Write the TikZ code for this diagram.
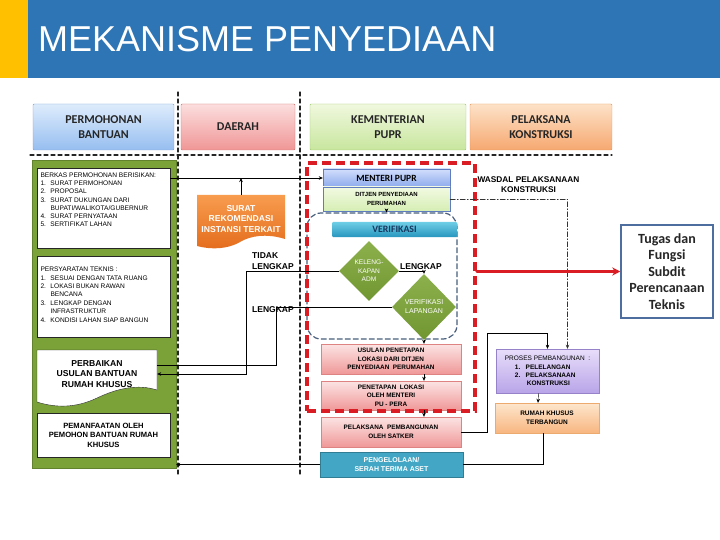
\documentclass[tikz,border=0pt]{standalone}
\usepackage{fontspec}
\setmainfont{Liberation Sans}
\newfontfamily\calibfont{Carlito}
\usetikzlibrary{arrows.meta,shapes.geometric}

\definecolor{barblue}{RGB}{46,117,182}
\definecolor{baryellow}{RGB}{255,192,0}
\definecolor{panelgreen}{RGB}{122,162,56}
\definecolor{zonered}{RGB}{218,28,36}
\definecolor{zoneblue}{RGB}{72,94,124}
\definecolor{asetteal}{RGB}{66,166,196}
\definecolor{tugasblue}{RGB}{79,110,160}

\newcommand\fs[2]{\fontsize{#1}{#2}\selectfont}
\newcommand\itm[1]{\makebox[10pt][l]{#1}}

\begin{document}
\begin{tikzpicture}[x=1pt,y=-1pt,>={Stealth[length=4pt,width=3.5pt]},line cap=round,
  every node/.style={inner sep=1pt},
  head/.style={rounded corners=1pt,minimum height=46pt,align=center,
    font=\calibfont\bfseries\fs{12}{14.5},text=black!85},
  whitebox/.style={draw=black!85,fill=white,inner sep=0pt},
  pinkbox/.style={draw={rgb,255:red,222;green,130;blue,130},top color={rgb,255:red,252;green,228;blue,228},
    bottom color={rgb,255:red,240;green,152;blue,152},minimum width=140pt,minimum height=30pt,
    align=center,font=\bfseries\fs{6.4}{8.5}},
  diam/.style={diamond,aspect=1,inner sep=0pt,top color={rgb,255:red,140;green,176;blue,76},
    bottom color={rgb,255:red,112;green,150;blue,50},align=center,text=white,font=\fs{6.6}{8.6}},
  lbl/.style={font=\bfseries\fs{8.5}{10.5}},
  divider/.style={black!85,line width=1.1pt,dash pattern=on 4pt off 3pt},
  wasdalline/.style={black!80,line width=0.6pt,dash pattern=on 5pt off 2pt on 1pt off 2pt}]
\useasboundingbox (0,0) rectangle (720,540);

% title bar
\fill[baryellow] (0,0) rectangle (28,78);
\fill[barblue] (28,0) rectangle (720,78);
\node[anchor=west,inner sep=0pt,text=white,font=\fs{36}{40}] (title) at (38,39) {MEKANISME PENYEDIAAN};

% lanes
\draw[divider] (178,92) -- (178,476);
\draw[divider] (300,92) -- (300,476);
\draw[divider] (30,155) -- (612,155);

\node[head,draw={rgb,255:red,125;green,160;blue,210},top color={rgb,255:red,222;green,236;blue,252},
  bottom color={rgb,255:red,150;green,190;blue,240},minimum width=141pt] (permohonan) at (103.5,127) {PERMOHONAN\\BANTUAN};
\node[head,draw={rgb,255:red,205;green,110;blue,110},top color={rgb,255:red,252;green,222;blue,222},
  bottom color={rgb,255:red,240;green,150;blue,150},minimum width=114pt] (daerah) at (238,127) {DAERAH};
\node[head,draw={rgb,255:red,160;green,200;blue,110},top color={rgb,255:red,240;green,248;blue,222},
  bottom color={rgb,255:red,200;green,230;blue,158},minimum width=156pt] (kementerian) at (388,127) {KEMENTERIAN\\PUPR};
\node[head,draw={rgb,255:red,230;green,150;blue,90},top color={rgb,255:red,253;green,226;blue,200},
  bottom color={rgb,255:red,246;green,168;blue,112},minimum width=142pt] (pelaksana) at (541,127) {PELAKSANA\\KONSTRUKSI};

% pemohon column
\node[fill=panelgreen,draw=panelgreen!80!black,minimum width=144pt,minimum height=308pt] (pemohon) at (104,314) {};
\node[whitebox,minimum width=133pt,minimum height=80pt] (berkas) at (103.5,208) {\parbox[c][78pt][t]{126pt}{\fs{6.6}{8.3}\vspace*{3.5pt}%
  BERKAS PERMOHONAN BERISIKAN:\\
  \itm{1.}SURAT PERMOHONAN\\
  \itm{2.}PROPOSAL\\
  \itm{3.}SURAT DUKUNGAN DARI\\
  \hspace*{10pt}BUPATI/WALIKOTA/GUBERNUR\\
  \itm{4.}SURAT PERNYATAAN\\
  \itm{5.}SERTIFIKAT LAHAN}};
\node[whitebox,minimum width=133pt,minimum height=81pt] (persyaratan) at (103.5,296.5) {\parbox[c][79pt][t]{126pt}{\fs{6.6}{8.4}\vspace*{10pt}%
  PERSYARATAN TEKNIS :\\
  \itm{1.}SESUAI DENGAN TATA RUANG\\
  \itm{2.}LOKASI BUKAN RAWAN\\
  \hspace*{10pt}BENCANA\\
  \itm{3.}LENGKAP DENGAN\\
  \hspace*{10pt}INFRASTRUKTUR\\
  \itm{4.}KONDISI LAHAN SIAP BANGUN}};
\filldraw[fill=white,draw=black!85] (37,350) -- (157,350) -- (157,390)
  .. controls (138,384) and (118,388) .. (97,398) .. controls (76,408) and (56,408) .. (37,402) -- cycle;
\node[minimum width=120pt,align=center,font=\bfseries\fs{8.6}{10.5}] (perbaikan) at (97,374) {PERBAIKAN\\USULAN BANTUAN\\RUMAH KHUSUS};
\node[whitebox,minimum width=133pt,minimum height=44pt,align=center,font=\bfseries\fs{7.6}{9.5}] (pemanfaatan) at (103.5,435) {PEMANFAATAN OLEH\\PEMOHON BANTUAN RUMAH\\KHUSUS};

% daerah column
\shade[top color={rgb,255:red,248;green,156;blue,78},bottom color={rgb,255:red,228;green,108;blue,28}]
  (197,195) -- (285,195) -- (285,239) .. controls (266,233) and (250,236) .. (240,242)
  .. controls (228,249) and (212,250) .. (197,246) -- cycle;
\node[minimum height=48pt,align=center,text=white,font=\bfseries\fs{8.6}{10.5}] (surat) at (241,219) {SURAT\\REKOMENDASI\\INSTANSI TERKAIT};
\node[lbl,anchor=west,align=left] (tidak) at (251,261) {TIDAK\\LENGKAP};
\node[lbl] (lengkapa) at (273,310) {LENGKAP};

% kementerian column
\node[draw={rgb,255:red,95;green,125;blue,190},top color={rgb,255:red,210;green,222;blue,252},
  bottom color={rgb,255:red,140;green,170;blue,236},minimum width=127pt,minimum height=18pt,
  font=\calibfont\bfseries\fs{9.5}{11}] (menteri) at (386.5,178) {MENTERI PUPR};
\node[draw={rgb,255:red,95;green,125;blue,190},top color={rgb,255:red,242;green,250;blue,226},
  bottom color={rgb,255:red,214;green,238;blue,180},minimum width=127pt,minimum height=24pt,
  align=center,font=\bfseries\fs{6}{8.5}] (ditjen) at (386.5,199) {DITJEN PENYEDIAAN\\PERUMAHAN};
\node[draw=zoneblue,line width=1.2pt,dash pattern=on 5pt off 3pt,rounded corners=14pt,
  minimum width=150pt,minimum height=126pt] (verifzone) at (382,276) {};
\node[top color={rgb,255:red,110;green,206;blue,230},bottom color={rgb,255:red,40;green,150;blue,190},
  rounded corners=1pt,minimum width=125pt,minimum height=15pt,text={rgb,255:red,23;green,55;blue,94},
  font=\calibfont\bfseries\fs{9.8}{11}] (verifikasi) at (394.5,229.5) {VERIFIKASI};
\node[diam,minimum width=60pt,minimum height=60pt] (keleng) at (369,271) {KELENG-\\KAPAN\\ADM};
\node[diam,minimum width=64pt,minimum height=66pt,font=\fs{7}{9}] (vl) at (424,307) {VERIFIKASI\\LAPANGAN};
\node[lbl] (lengkapb) at (421,267) {LENGKAP};
\node[pinkbox] (usulan) at (391,359) {USULAN PENETAPAN\\LOKASI DARI DITJEN\\PENYEDIAAN\ \ PERUMAHAN};
\node[pinkbox,minimum height=29pt] (penetapan) at (391,395.5) {PENETAPAN\ \ LOKASI\\OLEH MENTERI\\PU - PERA};
\node[pinkbox] (satker) at (391,432) {PELAKSANA\ \ PEMBANGUNAN\\OLEH SATKER};
\node[draw=asetteal!75!black,fill=asetteal,minimum width=143pt,minimum height=25pt,align=center,
  text=white,font=\bfseries\fs{7}{9.5}] (pengelolaan) at (391.5,464.5) {PENGELOLAAN/\\SERAH TERIMA ASET};
\node[draw=zonered,line width=3.5pt,dash pattern=on 9pt off 5pt,line cap=butt,
  minimum width=168pt,minimum height=248pt] (zone) at (391,287) {};

% pelaksana column
\node[lbl,align=center,font=\bfseries\fs{8.3}{9.5}] (wasdal) at (528.5,184.5) {WASDAL PELAKSANAAN\\KONSTRUKSI};
\node[draw={rgb,255:red,150;green,130;blue,200},top color={rgb,255:red,232;green,222;blue,250},
  bottom color={rgb,255:red,184;green,164;blue,232},minimum width=103pt,minimum height=44pt,
  align=left,font=\fs{6.5}{8.4}] (proses) at (547.5,371) {PROSES PEMBANGUNAN\ \ :\\
  \hspace*{10pt}\textbf{1.\ \ \ PELELANGAN}\\ \hspace*{10pt}\textbf{2.\ \ \ PELAKSANAAN}\\ \hspace*{22pt}\textbf{KONSTRUKSI}};
\node[draw={rgb,255:red,236;green,170;blue,110},top color={rgb,255:red,253;green,230;blue,205},
  bottom color={rgb,255:red,248;green,182;blue,128},minimum width=104pt,minimum height=30pt,
  align=center,font=\bfseries\fs{6.5}{8.8}] (rumah) at (547,418) {RUMAH KHUSUS\\TERBANGUN};
\node[draw=tugasblue,line width=1.5pt,fill=white,minimum width=92pt,minimum height=93pt,align=center,
  font=\calibfont\bfseries\fs{14}{16.5},text=black!85] (tugas) at (667,271.5) {Tugas dan\\Fungsi\\Subdit\\Perencanaan\\Teknis};

% connectors
\draw[->] (berkas.east |- menteri.west) -- (menteri.west);
\draw[->] (surat.north) -- (surat.north |- menteri.west);
\draw[->] (ditjen.south) -- (ditjen.south |- verifzone.north);
\draw[->] (keleng.east) -| (vl.north);
\draw[->] (keleng.west) -| (246,374) -- (perbaikan.east);
\draw (vl.west) -| (276,365) -- ([yshift=9pt]perbaikan.east);
\draw[->] (vl.south) -- (vl.south |- usulan.north);
\draw[->] (vl.south |- usulan.south) -- (vl.south |- penetapan.north);
\draw[->] (vl.south |- penetapan.south) -- (vl.south |- satker.north);
\draw[wasdalline,->] (ditjen.east) -| ([xshift=20pt]proses.north);
\draw[->] (satker.east) -- ++(26,0) |- ([yshift=16pt]proses.north) -- (proses.north);
\draw[->] ([xshift=-9pt]proses.south) -- ([xshift=-9pt]rumah.north);
\draw ([xshift=-4pt]rumah.south) |- (pengelolaan.east);
\draw[->] (pengelolaan.west) -- (pengelolaan.west -| pemohon.east);
\draw[zonered,line width=3pt,-{Stealth[length=8pt,width=8pt]}] (zone.east |- tugas.west) -- (tugas.west);
\end{tikzpicture}
\end{document}
